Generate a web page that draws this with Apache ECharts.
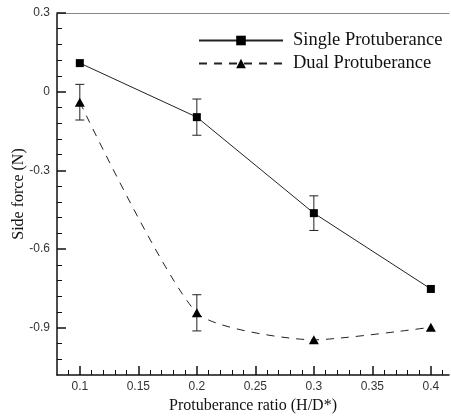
<!DOCTYPE html>
<html><head><meta charset="utf-8">
<script src="https://cdn.jsdelivr.net/npm/echarts@6/dist/echarts.min.js"></script>
<style>html,body{margin:0;padding:0;background:#fff}#c{width:451px;height:417px}</style>
</head><body><div id="c"></div>
<script>
const ratios = [0.1, 0.2, 0.3, 0.4];
const singleForce = [0.109, -0.097, -0.463, -0.752];
const singleErr = [0, 0.069, 0.066, 0];
const dualForce = [-0.04, -0.843, -0.946, -0.898];
const dualErr = [0.068, 0.069, 0, 0];
const xTickLabels = [0.1, 0.15, 0.2, 0.25, 0.3, 0.35, 0.4];
const yTickLabels = [0.3, 0, -0.3, -0.6, -0.9];
const xMinorTicks = [0.09,0.11,0.12,0.13,0.14,0.16,0.17,0.18,0.19,0.21,0.22,0.23,0.24,0.26,0.27,0.28,0.29,0.31,0.32,0.33,0.34,0.36,0.37,0.38,0.39,0.41];
const yMinorTicks = [0.24,0.18,0.12,0.06,-0.06,-0.12,-0.18,-0.24,-0.36,-0.42,-0.48,-0.54,-0.66,-0.72,-0.78,-0.84,-0.96,-1.02];

const errData = [];
ratios.forEach((x, i) => {
  if (singleErr[i] > 0) errData.push([x, singleForce[i] - singleErr[i], singleForce[i] + singleErr[i]]);
  if (dualErr[i] > 0) errData.push([x, dualForce[i] - dualErr[i], dualForce[i] + dualErr[i]]);
});

const XMIN = 0.0805, XMAX = 0.4155, YMIN = -1.08, YMAX = 0.3;
const lbl = {fontFamily: 'Liberation Sans', fontSize: 12, color: '#333'};

const chart = echarts.init(document.getElementById('c'), null, {renderer: 'canvas'});
chart.setOption({
  animation: false,
  backgroundColor: '#fff',
  grid: {left: 57, right: 2, top: 13, bottom: 42, containLabel: false, outerBoundsMode: 'none'},
  legend: {
    orient: 'vertical', left: 193, top: 26, itemWidth: 84, itemHeight: 12, itemGap: 4,
    textStyle: {fontFamily: 'Liberation Serif', fontSize: 18.5, color: '#111', padding: [0,0,0,5]},
    data: ['Single Protuberance', 'Dual Protuberance']
  },
  xAxis: [
    {type: 'value', min: XMIN, max: XMAX, position: 'bottom',
     name: 'Protuberance ratio (H/D*)', nameLocation: 'middle', nameGap: 23, nameMoveOverlap: false,
     nameTextStyle: {fontFamily: 'Liberation Serif', fontSize: 16, color: '#111'},
     axisLine: {onZero: false, lineStyle: {color: '#111', width: 1.5}},
     axisTick: {inside: true, length: 9, customValues: xTickLabels, lineStyle: {color: '#111', width: 1.5}},
     axisLabel: {customValues: xTickLabels, margin: 6, ...lbl},
     splitLine: {show: false}},
    {type: 'value', min: XMIN, max: XMAX, position: 'bottom',
     axisLine: {show: false, onZero: false},
     axisTick: {inside: true, length: 5, customValues: xMinorTicks, lineStyle: {color: '#111', width: 1}},
     axisLabel: {show: false}, splitLine: {show: false}},
    {type: 'value', min: XMIN, max: XMAX, position: 'top',
     axisLine: {onZero: false, lineStyle: {color: '#888', width: 1}},
     axisTick: {show: false}, axisLabel: {show: false}, splitLine: {show: false}}
  ],
  yAxis: [
    {type: 'value', min: YMIN, max: YMAX, position: 'left',
     name: 'Side force (N)', nameLocation: 'middle', nameGap: 30, nameRotate: 90, nameMoveOverlap: false,
     nameTextStyle: {fontFamily: 'Liberation Serif', fontSize: 16, color: '#111'},
     axisLine: {onZero: false, lineStyle: {color: '#111', width: 1.5}},
     axisTick: {inside: true, length: 9, customValues: yTickLabels, lineStyle: {color: '#111', width: 1.5}},
     axisLabel: {customValues: yTickLabels, margin: 7, ...lbl, formatter: v => String(v)},
     splitLine: {show: false}},
    {type: 'value', min: YMIN, max: YMAX, position: 'left',
     axisLine: {show: false, onZero: false},
     axisTick: {inside: true, length: 5, customValues: yMinorTicks, lineStyle: {color: '#111', width: 1}},
     axisLabel: {show: false}, splitLine: {show: false}}
  ],
  series: [
    {name: 'Single Protuberance', type: 'line', xAxisIndex: 0, yAxisIndex: 0,
     data: ratios.map((x, i) => [x, singleForce[i]]),
     symbol: 'rect', symbolSize: 8,
     itemStyle: {color: '#000'}, lineStyle: {color: '#222', width: 1}, z: 3},
    {name: 'Dual Protuberance', type: 'line', xAxisIndex: 0, yAxisIndex: 0,
     data: ratios.map((x, i) => [x, dualForce[i]]),
     symbol: 'triangle', symbolSize: [10, 9], smooth: 0.2,
     itemStyle: {color: '#000'}, lineStyle: {color: '#222', width: 1, type: [8, 7]}, z: 3},
    {type: 'custom', xAxisIndex: 0, yAxisIndex: 0, z: 2,
     data: errData,
     renderItem: function (params, api) {
       const x = api.value(0);
       const lo = api.coord([x, api.value(1)]);
       const hi = api.coord([x, api.value(2)]);
       const h = 4.5;
       const st = {stroke: '#222', lineWidth: 1};
       return {type: 'group', children: [
         {type: 'line', shape: {x1: lo[0], y1: lo[1], x2: hi[0], y2: hi[1]}, style: st},
         {type: 'line', shape: {x1: lo[0]-h, y1: lo[1], x2: lo[0]+h, y2: lo[1]}, style: st},
         {type: 'line', shape: {x1: hi[0]-h, y1: hi[1], x2: hi[0]+h, y2: hi[1]}, style: st}
       ]};
     }}
  ]
});
</script></body></html>
